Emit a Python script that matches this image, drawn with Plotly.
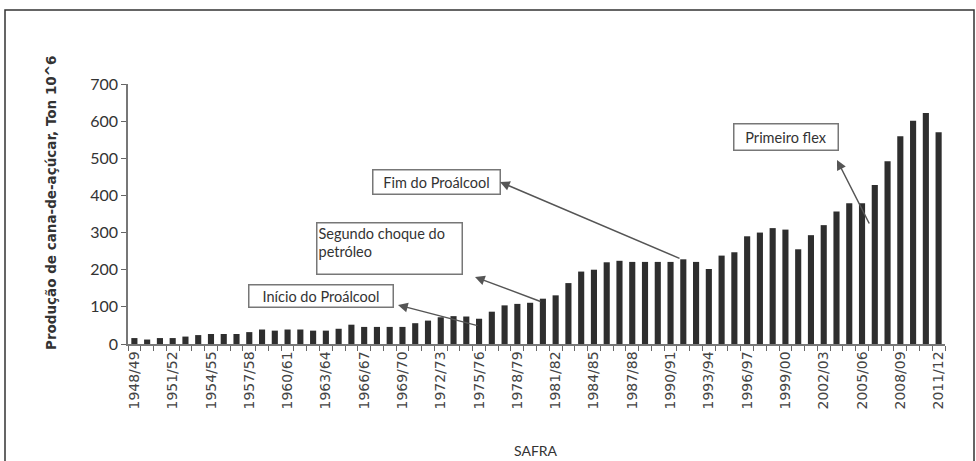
import plotly.graph_objects as go

seasons = [f"{y}/{str(y+1)[-2:]}" for y in range(1948, 2012)]
production = [16, 12, 16, 16, 20, 24, 27, 27, 27, 32,
              39, 36, 39, 39, 36, 36, 41, 52, 46, 46,
              46, 46, 56, 63, 72, 75, 74, 68, 87, 104,
              108, 111, 122, 131, 164, 195, 200, 220, 224, 221,
              221, 221, 221, 228, 221, 202, 238, 247, 290, 300,
              312, 308, 255, 293, 320, 357, 379, 379, 428, 492,
              559, 601, 622, 570]
label_idx = list(range(0, len(seasons), 3))
label_text = [seasons[i] for i in label_idx]

L, R, T, B = 128, 31, 84, 117
W, H = 976, 461
pw, ph = W - L - R, H - T - B

def px(xpix):
    return (xpix - L) / pw
def py(ypix):
    return (H - B - ypix) / ph
def dx(xpix):
    return (xpix - L) / pw * 64 - 0.5
def dy(ypix):
    return (H - B - ypix) / ph * 700

fig = go.Figure(go.Bar(
    x=list(range(len(seasons))), y=production,
    marker=dict(color="#2e2e2e", line=dict(width=0)),
    hovertext=seasons,
))

ann_font = dict(family="Lato, Open Sans, sans-serif", size=14.5, color="#333")
boxes = [
    ("Início do Proálcool", 248, 393, 284, 307, "center"),
    ("Segundo choque do<br>petróleo", 316, 462, 222, 274, "left"),
    ("Fim do Proálcool", 372, 500, 169, 194, "center"),
    ("Primeiro flex", 733, 838, 123, 150, "center"),
]
annotations = []
for text, x0, x1, y0, y1, align in boxes:
    annotations.append(dict(
        x=dx((x0 + x1) / 2), y=dy((y0 + y1) / 2), xref="x", yref="y",
        text=text, showarrow=False, align=align, valign="top" if align == "left" else "middle",
        width=x1 - x0 - 4, height=y1 - y0 - 4, borderpad=1,
        bordercolor="#777", borderwidth=1.5, bgcolor="white", font=ann_font,
    ))
arrows = [
    ((398, 305), (479, 326)),
    ((475, 277), (542, 302)),
    ((500, 182), (681, 259)),
    ((837, 160), (870, 225)),
]
for (hx, hy), (tx, ty) in arrows:
    annotations.append(dict(
        x=dx(hx), y=dy(hy), ax=dx(tx), ay=dy(ty), xref="x", yref="y",
        axref="x", ayref="y", text="", showarrow=True, arrowhead=2,
        arrowsize=1.3, arrowwidth=1.5, arrowcolor="#555",
    ))
annotations.append(dict(
    x=px(41), y=py(203), xref="paper", yref="paper", textangle=-90,
    text="<b>Produção de cana-de-açúcar, Ton 10^6</b>", showarrow=False,
    font=dict(family="DejaVu Sans, sans-serif", size=13.5, color="#333"),
))
annotations.append(dict(
    x=px(536), y=py(440), xref="paper", yref="paper", yanchor="top",
    text="SAFRA", showarrow=False,
    font=dict(family="Lato, sans-serif", size=14, color="#333"),
))

fig.update_layout(
    width=W, height=H, margin=dict(l=L, r=R, t=T, b=B, autoexpand=False),
    paper_bgcolor="white", plot_bgcolor="white",
    bargap=0.52, showlegend=False,
    annotations=annotations,
    shapes=[dict(type="rect", xref="paper", yref="paper",
                 x0=px(5), x1=px(974), y0=py(475), y1=py(10),
                 line=dict(color="#333", width=1.5), layer="below")],
    xaxis=dict(range=[-0.5, 63.5], tickvals=label_idx, ticktext=label_text,
               tickangle=-90, ticks="", showline=True, linecolor="#777",
               linewidth=1.5, showgrid=False, zeroline=False, automargin=False,
               tickfont=dict(family="DejaVu Sans, sans-serif", size=14, color="#444"),
               minor=dict(ticks="outside", tick0=-0.5, dtick=1, ticklen=5,
                          tickcolor="#666", tickwidth=1, showgrid=False)),
    yaxis=dict(range=[0, 700], dtick=100, ticks="outside", ticklen=5,
               tickcolor="#666", showline=True, linecolor="#777", linewidth=1.5,
               showgrid=False, zeroline=False, automargin=False,
               tickfont=dict(family="Lato, sans-serif", size=16, color="#333")),
)
fig.write_html("out.html", config={"displayModeBar": False},
               post_script="document.body.style.margin='0';document.body.style.overflow='hidden';")
